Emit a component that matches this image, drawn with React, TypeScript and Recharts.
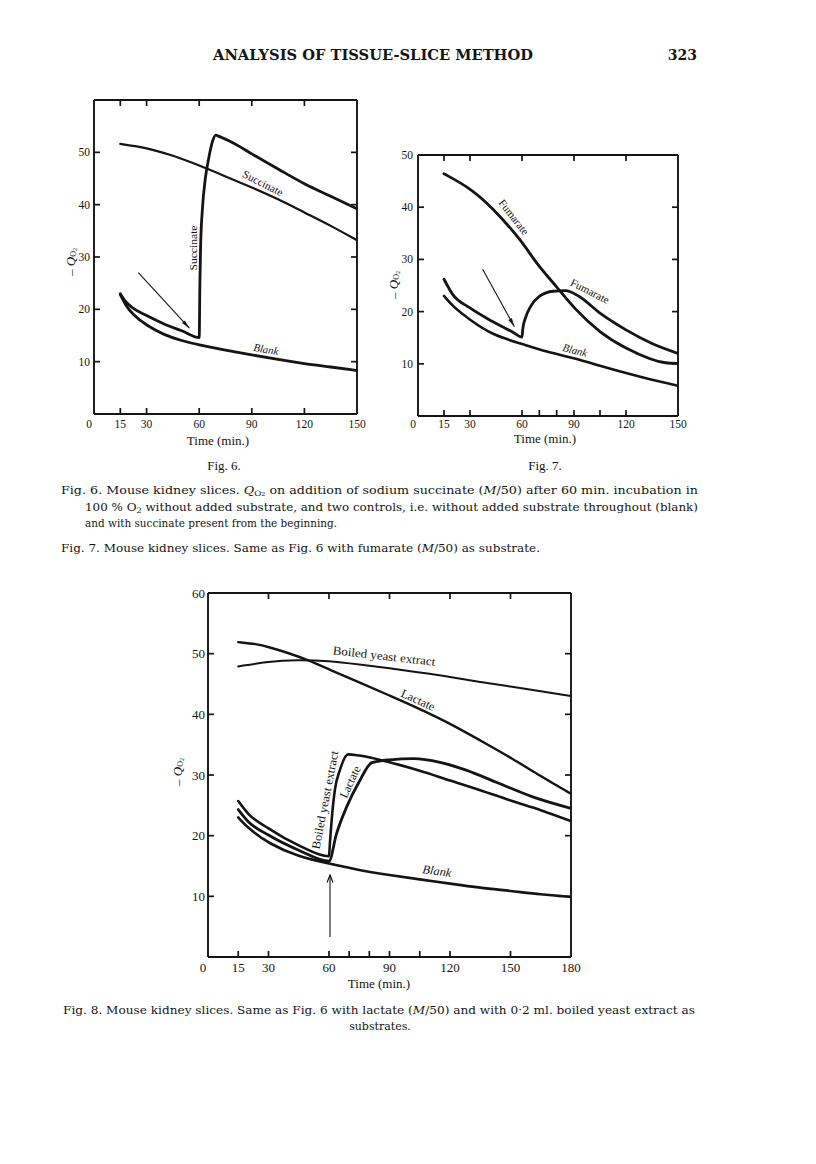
import React from 'react';
import { LineChart, Line, XAxis, YAxis } from 'recharts';

const SERIF = '"Liberation Serif", "Times New Roman", serif';
const CAPTION = '"DejaVu Serif", "Liberation Serif", serif';
const INK = '#141414';

// ---------- data: [time (min), -QO2] ----------
// Fig. 6
const fig6SuccinateStart = [[15, 51.6], [30, 50.9], [45, 49.4], [60, 47.5], [75, 45.4], [90, 43.3], [105, 41.1], [120, 38.5], [135, 36.0], [150, 33.2]];
const fig6SuccinateAdded = [[15, 23.0], [18, 21.5], [22, 20.3], [30, 18.8], [40, 17.2], [50, 15.9], [60, 14.6], [60.4, 25], [60.8, 32], [61.8, 39], [63.5, 45], [65.5, 49], [67.5, 52], [69.5, 53.3], [71, 53.1], [80, 51.7], [90, 49.7], [105, 46.8], [120, 44.0], [135, 41.6], [150, 39.2]];
const fig6Blank = [[15, 22.8], [18, 20.8], [22, 19.0], [30, 16.9], [40, 15.1], [50, 14.0], [60, 13.2], [75, 12.2], [90, 11.3], [105, 10.4], [120, 9.6], [135, 9.0], [150, 8.3]];
// Fig. 7
const fig7FumarateStart = [[15, 46.4], [30, 43.7], [43, 39.9], [60, 33.5], [68, 29.3], [80, 24.8], [90, 20.6], [105, 15.9], [120, 12.9], [135, 10.7], [143, 10.1], [150, 10.1]];
const fig7FumarateAdded = [[15, 26.2], [20, 23.3], [30, 20.7], [43, 18.1], [55, 16.0], [60, 15.1], [60.5, 16.8], [62, 18.8], [65, 21.0], [70, 22.9], [78, 23.9], [85, 24.0], [93, 22.9], [105, 19.7], [120, 16.5], [135, 13.9], [150, 12.0]];
const fig7Blank = [[15, 23.0], [20, 21.0], [30, 18.4], [43, 15.5], [60, 13.8], [74, 12.3], [90, 11.1], [105, 9.6], [120, 8.2], [135, 6.9], [150, 5.8]];
// Fig. 8
const fig8YeastStart = [[15, 47.9], [30, 48.7], [44, 49.0], [60, 48.8], [75, 48.2], [90, 47.6], [105, 46.9], [120, 46.2], [135, 45.3], [150, 44.6], [165, 43.8], [180, 43.0]];
const fig8LactateStart = [[15, 51.9], [24, 51.6], [30, 51.1], [40, 50.1], [50, 48.9], [60, 47.4], [75, 45.3], [90, 43.1], [105, 40.9], [120, 38.5], [135, 35.7], [150, 32.9], [165, 29.8], [180, 26.9]];
const fig8Blank = [[15, 23.0], [20, 21.2], [30, 18.7], [45, 16.5], [60, 15.4], [75, 14.3], [90, 13.5], [105, 12.8], [120, 12.1], [135, 11.4], [150, 10.9], [165, 10.3], [180, 9.9]];
const fig8YeastAdded = [[15, 25.7], [20, 23.6], [30, 21.2], [45, 18.4], [60, 16.6], [60.5, 19.0], [61.3, 22.5], [62.9, 27.5], [65.4, 30.8], [69.5, 33.4], [75, 33.2], [90, 32.1], [105, 30.7], [120, 29.1], [135, 27.5], [150, 25.8], [165, 24.2], [180, 22.4]];
const fig8LactateAdded = [[15, 24.3], [20, 22.3], [30, 20.1], [45, 17.6], [60, 15.8], [63.7, 20.3], [68.7, 24.7], [75.3, 29.1], [81, 32.0], [85, 32.3], [90, 32.5], [102, 32.7], [115, 32.1], [128, 30.8], [143, 28.8], [161, 26.4], [180, 24.5]];

// ---------- tick labels / marks ----------
const fig6XLabels = [0, 15, 30, 60, 90, 120, 150];
const fig6XMarksBottom = [15, 30, 60, 90, 120];
const fig6XMarksTop = [15, 30, 60, 90, 120];
const fig6YLabels = [10, 20, 30, 40, 50];
const fig6YMarks = [10, 20, 30, 40, 50];

const fig7XLabels = [0, 15, 30, 60, 90, 120, 150];
const fig7XMarksBottom = [15, 30, 60, 70, 80, 90, 105, 120];
const fig7XMarksTop = [15, 30, 60, 90, 120];
const fig7YLabels = [10, 20, 30, 40, 50];
const fig7YMarks = [10, 20, 30, 40];

const fig8XLabels = [0, 15, 30, 60, 90, 120, 150, 180];
const fig8XMarksBottom = [15, 30, 60, 70, 80, 90, 105, 120, 150];
const fig8XMarksTop = [30, 60, 90, 120, 150];
const fig8YLabels = [10, 20, 30, 40, 50, 60];
const fig8YMarks = [10, 20, 30, 40, 50];

type Box = { x: number; y: number; w: number; h: number };
type SeriesDef = { name: string; data: number[][]; width: number; curve: 'basis' | 'monotone' };

const toPts = (a: number[][]) => a.map(([t, q]) => ({ t, q }));
const uniqSorted = (a: number[]) => Array.from(new Set(a)).sort((p, q) => p - q);

interface PanelProps {
  box: Box; xMax: number; yMax: number;
  xLabels: number[]; xMarksBottom: number[]; xMarksTop: number[];
  yLabels: number[]; yMarks: number[];
  series: SeriesDef[]; fs: number; xGap: number; yGap: number;
}

function Panel(p: PanelProps) {
  const ML = 40, MR = 20, MT = 20, MB = 40;
  const W = p.box.w + ML + MR;
  const H = p.box.h + MT + MB;
  const axisLine = { stroke: INK, strokeWidth: 1.9 };
  const TL = 6;

  const bottomTick = (props: any) => {
    const { x, y, payload } = props;
    const v = payload.value;
    return (
      <g>
        {p.xMarksBottom.includes(v) && <line x1={x} x2={x} y1={y} y2={y - TL} stroke={INK} strokeWidth={1.7} />}
        {p.xLabels.includes(v) && (
          <text x={v === 0 ? x - 5 : x} y={y + p.xGap} textAnchor="middle" dominantBaseline="central" fontSize={p.fs} fontFamily={SERIF} fill={INK}>{v}</text>
        )}
      </g>
    );
  };
  const topTick = (props: any) => {
    const { x, y, payload } = props;
    const v = payload.value;
    return <g>{p.xMarksTop.includes(v) && <line x1={x} x2={x} y1={y} y2={y + TL} stroke={INK} strokeWidth={1.7} />}</g>;
  };
  const leftTick = (props: any) => {
    const { x, y, payload } = props;
    const v = payload.value;
    return (
      <g>
        {p.yMarks.includes(v) && <line x1={x} x2={x + TL} y1={y} y2={y} stroke={INK} strokeWidth={1.7} />}
        {p.yLabels.includes(v) && (
          <text x={x - p.yGap} y={y} textAnchor="end" dominantBaseline="central" fontSize={p.fs} fontFamily={SERIF} fill={INK}>{v}</text>
        )}
      </g>
    );
  };
  const rightTick = (props: any) => {
    const { x, y, payload } = props;
    const v = payload.value;
    return <g>{p.yMarks.includes(v) && <line x1={x} x2={x - TL} y1={y} y2={y} stroke={INK} strokeWidth={1.7} />}</g>;
  };

  return (
    <div style={{ position: 'absolute', left: p.box.x - ML, top: p.box.y - MT }}>
      <LineChart width={W} height={H} margin={{ top: MT - 1, right: MR - 1, bottom: MB - 1, left: ML - 1 }}>
        <XAxis xAxisId="b" orientation="bottom" type="number" dataKey="t" domain={[0, p.xMax]} allowDataOverflow
          ticks={uniqSorted([...p.xLabels, ...p.xMarksBottom])} interval={0} height={1} tickSize={0} tickMargin={0}
          tickLine={false} axisLine={axisLine} tick={bottomTick} />
        <XAxis xAxisId="t" orientation="top" type="number" dataKey="t" domain={[0, p.xMax]} allowDataOverflow
          ticks={p.xMarksTop} interval={0} height={1} tickSize={0} tickMargin={0}
          tickLine={false} axisLine={axisLine} tick={topTick} />
        <YAxis yAxisId="l" orientation="left" type="number" domain={[0, p.yMax]} allowDataOverflow
          ticks={uniqSorted([...p.yLabels, ...p.yMarks])} interval={0} width={1} tickSize={0} tickMargin={0}
          tickLine={false} axisLine={axisLine} tick={leftTick} />
        <YAxis yAxisId="r" orientation="right" type="number" domain={[0, p.yMax]} allowDataOverflow
          ticks={p.yMarks} interval={0} width={1} tickSize={0} tickMargin={0}
          tickLine={false} axisLine={axisLine} tick={rightTick} />
        <Line xAxisId="t" yAxisId="r" data={[{ t: 0, q: 0 }, { t: p.xMax, q: p.yMax }]} dataKey="q"
          stroke="none" dot={false} activeDot={false} isAnimationActive={false} legendType="none" />
        {p.series.map((s) => (
          <Line key={s.name} name={s.name} xAxisId="b" yAxisId="l" data={toPts(s.data)} dataKey="q" type={s.curve}
            stroke={INK} strokeWidth={s.width} strokeLinecap="round" strokeLinejoin="round"
            dot={false} activeDot={false} isAnimationActive={false} />
        ))}
      </LineChart>
    </div>
  );
}

// ---------- layout ----------
const box6: Box = { x: 94, y: 100, w: 263, h: 314 };
const box7: Box = { x: 418, y: 155, w: 260, h: 261 };
const box8: Box = { x: 208, y: 593, w: 363, h: 364 };

const dp = (b: Box, xMax: number, yMax: number, t: number, q: number) => ({
  x: b.x + (t / xMax) * b.w,
  y: b.y + b.h - (q / yMax) * b.h,
});

function Txt(props: { x: number; y: number; a?: number; len?: number; fs?: number; italic?: boolean; bold?: boolean; font?: string; anchor?: 'start' | 'middle' | 'end'; children: React.ReactNode }) {
  const { x, y, a = 0, len, fs = 11, italic, bold, font = SERIF, anchor = 'middle', children } = props;
  return (
    <text x={x} y={y} transform={a ? `rotate(${a} ${x} ${y})` : undefined} textAnchor={anchor} dominantBaseline="central"
      fontSize={fs} fontFamily={font} fontStyle={italic ? 'italic' : 'normal'} fontWeight={bold ? 'bold' : 'normal'} fill={INK}
      textLength={len} lengthAdjust={len ? 'spacingAndGlyphs' : undefined}>
      {children}
    </text>
  );
}

function QTitle({ x, y }: { x: number; y: number }) {
  return (
    <text transform={`translate(${x},${y}) rotate(-90)`} textAnchor="middle" dominantBaseline="central" fontFamily={SERIF} fontSize={13} fill={INK}>
      <tspan>– </tspan>
      <tspan fontStyle="italic">Q</tspan>
      <tspan fontSize={8} dy={3}>O</tspan>
      <tspan fontSize={6} dy={1.5}>2</tspan>
    </text>
  );
}

function Arrow({ from, to, filled }: { from: { x: number; y: number }; to: { x: number; y: number }; filled?: boolean }) {
  const ang = Math.atan2(to.y - from.y, to.x - from.x);
  const L = filled ? 9 : 8;
  const s = filled ? 0.22 : 0.38;
  const ax = to.x - L * Math.cos(ang - s), ay = to.y - L * Math.sin(ang - s);
  const bx = to.x - L * Math.cos(ang + s), by = to.y - L * Math.sin(ang + s);
  return (
    <g>
      <line x1={from.x} y1={from.y} x2={to.x} y2={to.y} stroke={INK} strokeWidth={1.1} />
      {filled ? (
        <path d={`M${to.x},${to.y}L${ax},${ay}L${bx},${by}Z`} fill={INK} />
      ) : (
        <path d={`M${ax},${ay}L${to.x},${to.y}L${bx},${by}`} fill="none" stroke={INK} strokeWidth={1.2} />
      )}
    </g>
  );
}

export default function App() {
  return (
    <div style={{ position: 'absolute', left: 0, top: 0, width: 816, height: 1164, background: '#fff', overflow: 'hidden' }}>
      <Panel box={box6} xMax={150} yMax={60} xLabels={fig6XLabels} xMarksBottom={fig6XMarksBottom} xMarksTop={fig6XMarksTop}
        yLabels={fig6YLabels} yMarks={fig6YMarks} fs={11.5} xGap={10} yGap={4}
        series={[
          { name: 'Succinate (from start)', data: fig6SuccinateStart, width: 2.2, curve: 'basis' },
          { name: 'Succinate (added at 60 min)', data: fig6SuccinateAdded, width: 2.8, curve: 'monotone' },
          { name: 'Blank', data: fig6Blank, width: 2.8, curve: 'basis' },
        ]} />
      <Panel box={box7} xMax={150} yMax={50} xLabels={fig7XLabels} xMarksBottom={fig7XMarksBottom} xMarksTop={fig7XMarksTop}
        yLabels={fig7YLabels} yMarks={fig7YMarks} fs={11.5} xGap={8} yGap={5}
        series={[
          { name: 'Fumarate (from start)', data: fig7FumarateStart, width: 2.8, curve: 'basis' },
          { name: 'Fumarate (added at 60 min)', data: fig7FumarateAdded, width: 2.8, curve: 'monotone' },
          { name: 'Blank', data: fig7Blank, width: 2.6, curve: 'basis' },
        ]} />
      <Panel box={box8} xMax={180} yMax={60} xLabels={fig8XLabels} xMarksBottom={fig8XMarksBottom} xMarksTop={fig8XMarksTop}
        yLabels={fig8YLabels} yMarks={fig8YMarks} fs={13} xGap={10} yGap={3}
        series={[
          { name: 'Boiled yeast extract (from start)', data: fig8YeastStart, width: 2.0, curve: 'basis' },
          { name: 'Lactate (from start)', data: fig8LactateStart, width: 2.4, curve: 'basis' },
          { name: 'Blank', data: fig8Blank, width: 2.6, curve: 'basis' },
          { name: 'Boiled yeast extract (added at 60 min)', data: fig8YeastAdded, width: 2.6, curve: 'monotone' },
          { name: 'Lactate (added at 60 min)', data: fig8LactateAdded, width: 2.8, curve: 'monotone' },
        ]} />

      <svg width={816} height={1164} style={{ position: 'absolute', left: 0, top: 0, pointerEvents: 'none' }}>
        {/* running head */}
        <Txt x={213} y={55} anchor="start" fs={14} bold font={CAPTION} len={320}>ANALYSIS OF TISSUE-SLICE METHOD</Txt>
        <Txt x={697} y={55} anchor="end" fs={14} bold font={CAPTION}>323</Txt>

        {/* Fig. 6 annotations */}
        <QTitle x={70} y={262} />
        <Txt x={218} y={440} fs={13}>Time (min.)</Txt>
        <Txt x={224} y={465} fs={13}>Fig. 6.</Txt>
        <Txt x={263} y={183} a={27} len={44}>Succinate</Txt>
        <Txt x={193} y={248} a={-90} len={45}>Succinate</Txt>
        <Txt x={266} y={349} a={10} len={25} italic>Blank</Txt>
        <Arrow from={dp(box6, 150, 60, 25.3, 27)} to={dp(box6, 150, 60, 54.4, 16.4)} filled />

        {/* Fig. 7 annotations */}
        <QTitle x={393} y={285} />
        <Txt x={545} y={438} fs={13}>Time (min.)</Txt>
        <Txt x={545} y={465} fs={13}>Fig. 7.</Txt>
        <Txt x={514} y={217} a={52} len={42}>Fumarate</Txt>
        <Txt x={590} y={291} a={27} len={42}>Fumarate</Txt>
        <Txt x={575} y={350} a={14} len={25} italic>Blank</Txt>
        <Arrow from={dp(box7, 150, 50, 37.3, 28.1)} to={dp(box7, 150, 50, 55.6, 17.1)} filled />

        {/* captions 6 & 7 */}
        <Txt x={61} y={490} anchor="start" fs={11} font={CAPTION} len={637}>
          Fig. 6. Mouse kidney slices. <tspan fontStyle="italic">Q</tspan><tspan fontSize={7.5} dy={3}>O</tspan><tspan fontSize={5.5} dy={1}>2</tspan><tspan dy={-4}> on addition of sodium succinate (</tspan><tspan fontStyle="italic">M</tspan>/50) after 60 min. incubation in
        </Txt>
        <Txt x={85} y={507} anchor="start" fs={11} font={CAPTION} len={613}>
          100 % O<tspan fontSize={7.5} dy={3}>2</tspan><tspan dy={-3}> without added substrate, and two controls, i.e. without added substrate throughout (blank)</tspan>
        </Txt>
        <Txt x={85} y={523} anchor="start" fs={11} font={CAPTION} len={252}>and with succinate present from the beginning.</Txt>
        <Txt x={61} y={548} anchor="start" fs={11} font={CAPTION} len={479}>
          Fig. 7. Mouse kidney slices. Same as Fig. 6 with fumarate (<tspan fontStyle="italic">M</tspan>/50) as substrate.
        </Txt>

        {/* Fig. 8 annotations */}
        <QTitle x={177} y={772} />
        <Txt x={379} y={983} fs={13}>Time (min.)</Txt>
        <Txt x={384} y={656} a={6.5} len={103} fs={12}>Boiled yeast extract</Txt>
        <Txt x={418} y={700} a={24} len={36} fs={12}>Lactate</Txt>
        <Txt x={325} y={800} a={-79} len={100} fs={12}>Boiled yeast extract</Txt>
        <Txt x={350} y={782} a={-65} len={34} fs={12}>Lactate</Txt>
        <Txt x={437} y={871} a={8} len={29} fs={12} italic>Blank</Txt>
        <Arrow from={dp(box8, 180, 60, 60.5, 3.3)} to={dp(box8, 180, 60, 60.5, 13.5)} />

        <Txt x={63} y={1010} anchor="start" fs={11} font={CAPTION} len={632}>
          Fig. 8. Mouse kidney slices. Same as Fig. 6 with lactate (<tspan fontStyle="italic">M</tspan>/50) and with 0·2 ml. boiled yeast extract as
        </Txt>
        <Txt x={380} y={1026} fs={11} font={CAPTION}>substrates.</Txt>
      </svg>
    </div>
  );
}
